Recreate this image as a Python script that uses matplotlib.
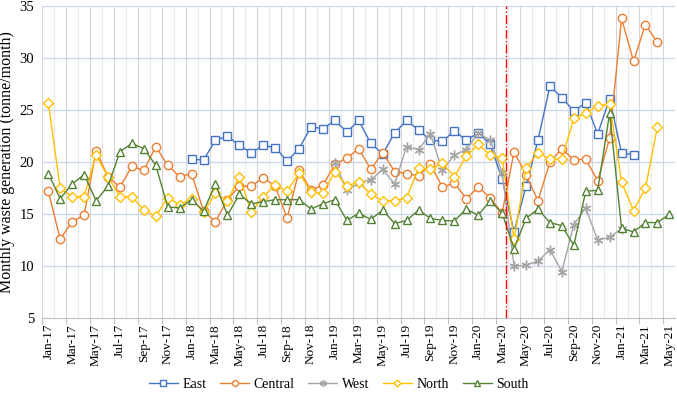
import numpy as np
import pandas as pd
import matplotlib
matplotlib.use("Agg")
import matplotlib.pyplot as plt

plt.rcParams['font.family'] = ['Liberation Serif', 'DejaVu Serif']

# months Jan-17 .. May-21
months = pd.date_range('2017-01-01', periods=53, freq='MS').strftime('%b-%y').tolist()

# series values (tonne/month), None = no data
east = [None]*12 + [20.3, 20.2, 22.1, 22.5, 21.6, 20.9, 21.6, 21.4, 20.1, 21.3, 23.4, 23.2,
                    24.0, 22.9, 24.0, 21.8, 20.8, 22.8, 24.0, 23.1, 22.1, 22.0, 23.0, 22.1,
                    22.8, 21.7, 18.4, 13.3, 17.7, 22.1, 27.3, 26.2, 24.9, 25.7, 22.7, 26.1,
                    20.9, 20.7] + [None]*3
central = [17.2, 12.6, 14.3, 14.9, 21.1, 18.6, 17.6, 19.6, 19.2, 21.5, 19.7, 18.6,
           18.9, 15.3, 14.3, 16.4, 17.7, 17.7, 18.5, 17.7, 14.6, 19.2, 17.3, 17.8,
           19.8, 20.4, 21.3, 19.3, 20.9, 19.1, 18.9, 18.7, 19.8, 17.6, 18.0, 16.5,
           17.6, 16.6, 15.1, 21.0, 18.8, 16.3, 20.0, 21.3, 20.2, 20.3, 18.2, 22.3,
           33.8, 29.7, 33.2, 31.5, None]
west = [None]*24 + [19.9, 17.3, 18.0, 18.3, 19.3, 17.9, 21.5, 21.2, 22.7, 19.2, 20.7, 21.2,
                    22.8, 22.1, 19.0, 10.0, 10.1, 10.5, 11.6, 9.5, 14.0, 15.6, 12.5, 12.8,
                    13.6] + [None]*4
north = [25.7, 17.5, 16.7, 16.7, 20.7, 18.6, 16.7, 16.7, 15.4, 14.8, 16.6, 15.9,
         16.5, 15.2, 17.0, 16.3, 18.6, 15.2, 16.7, 17.8, 17.2, 19.0, 17.1, 17.0,
         19.1, 17.7, 18.1, 16.9, 16.3, 16.3, 16.6, 19.4, 19.3, 19.9, 18.6, 20.6,
         21.7, 20.7, 20.4, 12.6, 19.4, 20.9, 20.3, 20.3, 24.2, 24.7, 25.4, 25.6,
         18.1, 15.35, 17.5, 23.4, None]
south = [18.9, 16.5, 17.9, 18.8, 16.3, 17.7, 21.0, 21.8, 21.3, 19.7, 15.7, 15.6,
         16.4, 15.3, 17.9, 14.9, 16.9, 16.0, 16.2, 16.4, 16.4, 16.4, 15.5, 16.0,
         16.4, 14.4, 15.1, 14.5, 15.4, 14.1, 14.4, 15.4, 14.6, 14.4, 14.35, 15.5,
         14.9, 16.3, 15.1, 11.7, 14.6, 15.5, 14.2, 13.9, 12.0, 17.2, 17.3, 24.7,
         13.65, 13.3, 14.2, 14.2, 15.0]

lockdown = 38.8  # late March 2020

fig = plt.figure(figsize=(6.77, 3.95), dpi=100)
ax = fig.add_axes([0.0625, 0.194, 0.935, 0.791])

x = np.arange(len(months)) + 0.5

def arr(v):
    return np.array([np.nan if a is None else a for a in v], dtype=float)

#grid
for b in range(len(months) + 1):
    ax.axvline(b, color='#d6d6d6' if b % 2 == 0 else '#ebebeb', lw=0.8, zorder=0)
for yv in range(10, 36, 5):
    ax.axhline(yv, color='#cdd6f0', lw=0.9, zorder=0)

style = dict(lw=1.0, markersize=6, markerfacecolor='white', markeredgewidth=1.0)
ax.plot(x, arr(east), color='#4472C4', marker='s', label='East', markersize=5.5,
        lw=1.0, markerfacecolor='white', markeredgewidth=1.0)
ax.plot(x, arr(central), color='#ED7D31', marker='o', label='Central', **style)
ax.plot(x, arr(west), color='#A5A5A5', marker=(6, 2, 0), label='West', lw=1.0, markersize=7)
ax.plot(x, arr(north), color='#FFC000', marker='D', label='North', markersize=5,
        lw=1.0, markerfacecolor='white', markeredgewidth=1.0)
ax.plot(x, arr(south), color='#548235', marker='^', label='South', **style)

ax.axvline(lockdown, color='red', lw=1.0, ls='-.', zorder=3)

ax.set_xlim(0, len(months))
ax.set_ylim(5, 35)
ax.set_yticks(range(5, 36, 5))

ax.set_xticks(np.arange(0, len(months), 2))
ax.set_xticklabels([''] * len(np.arange(0, len(months), 2)))
ax.set_xticks(np.arange(0, len(months), 2) + 0.5, minor=True)
ax.set_xticklabels(months[::2], minor=True, rotation=90, fontsize=9.5)
ax.tick_params(axis='x', which='major', length=4, color='#bfbfbf')
ax.tick_params(axis='x', which='minor', length=0, pad=4)
ax.tick_params(axis='y', length=0, labelsize=10.5, pad=6)

for s in ['top', 'right', 'left']:
    ax.spines[s].set_visible(False)
ax.spines['bottom'].set_color('#bfbfbf')

ax.set_ylabel('Monthly waste generation (tonne/month)', fontsize=11.5, labelpad=3)

handles, labels = ax.get_legend_handles_labels()
fig.legend(handles, labels, loc='lower center', bbox_to_anchor=(0.5, -0.022), ncol=5,
           frameon=False, fontsize=10, handlelength=2.1, columnspacing=1.0,
           handletextpad=0.3, markerscale=0.7)

fig.savefig('out.png', dpi=100)
